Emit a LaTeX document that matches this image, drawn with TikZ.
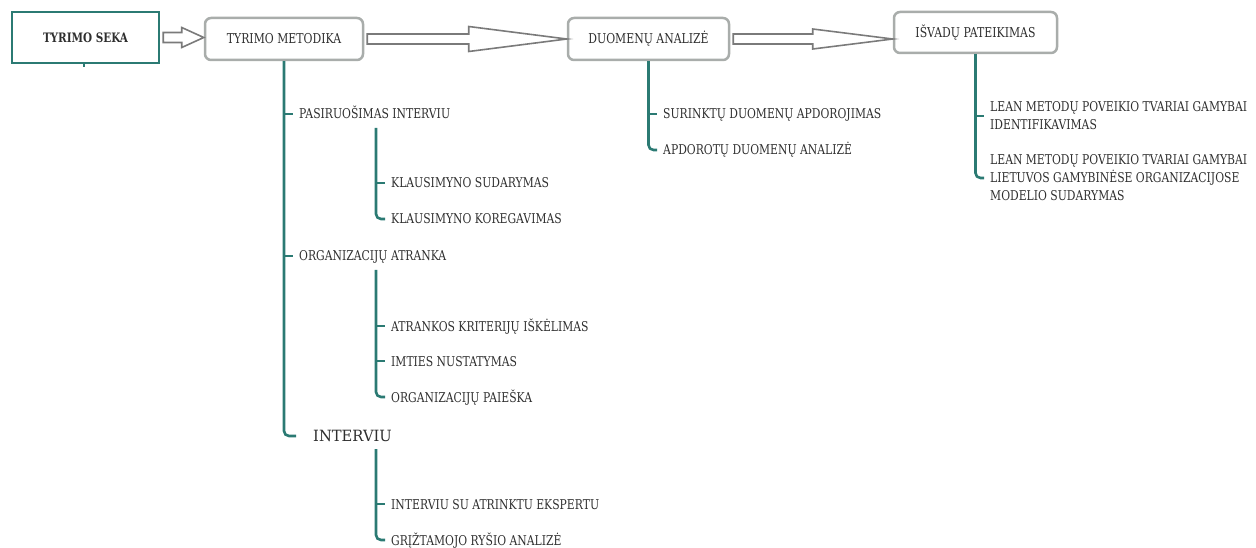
\documentclass[tikz,border=0pt]{standalone}
\usepackage{fontspec}
\setmainfont{DejaVu Serif}[FakeStretch=0.8]
\newfontfamily\widefont{DejaVu Serif}[FakeStretch=0.95]
\usetikzlibrary{calc}
\definecolor{teal1}{HTML}{2B7A73}
\definecolor{boxgray}{HTML}{A9ADAB}
\definecolor{ink}{HTML}{2E2E2E}
\definecolor{arrowgray}{HTML}{7A7A7A}

% hollow block arrow between two stage boxes
% #1 source node, #2 target node, #3 head length, #4 head half-height
\newcommand\hollowarrow[4]{%
  \draw[harrow] let \p1=(#1.east), \p2=(#2.west) in
    (\x1+3pt,\y1+5pt) -- (\x2-#3,\y1+5pt) -- (\x2-#3,\y1+#4) -- (\x2,\y1)
    -- (\x2-#3,\y1-#4) -- (\x2-#3,\y1-5pt) -- (\x1+3pt,\y1-5pt) -- cycle;}

\begin{document}
\begin{tikzpicture}[x=1pt,y=-1pt,
  stage/.style={draw=boxgray, line width=2.5pt, rounded corners=6pt, fill=white,
    text=ink, font=\fontsize{13.6}{15}\selectfont, inner sep=0pt, minimum height=42pt},
  start/.style={draw=teal1, line width=2.5pt, fill=white, text=ink,
    font=\bfseries\fontsize{13}{15}\selectfont, minimum width=147pt, minimum height=51pt},
  item/.style={anchor=west, inner xsep=6pt, inner ysep=0pt, text=ink,
    font=\fontsize{13.5}{15}\selectfont, text height=10pt, text depth=0pt},
  bigitem/.style={anchor=west, inner sep=0pt, text=ink,
    font=\widefont\fontsize{15.5}{17}\selectfont, text height=11.5pt, text depth=0pt},
  multiitem/.style={anchor=west, inner xsep=6pt, inner ysep=0pt, text=ink, align=left,
    font=\fontsize{13.5}{18}\selectfont},
  branch/.style={draw=teal1, line width=2.6pt},
  lastbranch/.style={branch, rounded corners=5pt},
  harrow/.style={draw=arrowgray, line width=1.6pt, fill=white, line join=miter}]

\useasboundingbox (0,0) rectangle (1256,548);

% main stages
\node[start] (seka) at (85.5,37.5) {TYRIMO SEKA};
\node[stage, minimum width=158pt] (metodika) at (284,39) {TYRIMO METODIKA};
\node[stage, minimum width=161pt] (duomenys) at (648.5,39) {DUOMENŲ ANALIZĖ};
\node[stage, minimum width=163pt, minimum height=41pt] (isvados) at (975.5,32.5) {IŠVADŲ PATEIKIMAS};

\coordinate (sekastub) at (84,67);
\draw[draw=teal1, line width=2pt] (seka.south -| sekastub) -- (sekastub);

% arrows between stages
\hollowarrow{seka}{metodika}{22pt}{10pt}
\hollowarrow{metodika}{duomenys}{98pt}{12.5pt}
\hollowarrow{duomenys}{isvados}{80pt}{10pt}

% --- research methodology branch ---
\node[item] (pasiruosimas) at (293,114) {PASIRUOŠIMAS INTERVIU};
\node[item] (sudarymas) at (385,183) {KLAUSIMYNO SUDARYMAS};
\node[item] (koregavimas) at (385,219) {KLAUSIMYNO KOREGAVIMAS};
\node[item] (atranka) at (293,256) {ORGANIZACIJŲ ATRANKA};
\node[item] (kriterijai) at (385,326) {ATRANKOS KRITERIJŲ IŠKĖLIMAS};
\node[item] (imtis) at (385,361) {IMTIES NUSTATYMAS};
\node[item] (paieska) at (385,397) {ORGANIZACIJŲ PAIEŠKA};
\node[bigitem] (interviu) at (313,436) {INTERVIU};
\node[item] (ekspertas) at (385,504) {INTERVIU SU ATRINKTU EKSPERTU};
\node[item] (griztamasis) at (385,540) {GRĮŽTAMOJO RYŠIO ANALIZĖ};

\coordinate (interviuend) at (296,436);
\draw[lastbranch] (metodika.south) |- (interviuend);
\draw[branch] (metodika.south |- pasiruosimas.west) -- (pasiruosimas.west);
\draw[branch] (metodika.south |- atranka.west) -- (atranka.west);

\coordinate (pasub) at (376,128);
\draw[lastbranch] (pasub) |- (koregavimas.west);
\draw[branch] (pasub |- sudarymas.west) -- (sudarymas.west);

\coordinate (atsub) at (376,270);
\draw[lastbranch] (atsub) |- (paieska.west);
\draw[branch] (atsub |- kriterijai.west) -- (kriterijai.west);
\draw[branch] (atsub |- imtis.west) -- (imtis.west);

\coordinate (insub) at (376,449);
\draw[lastbranch] (insub) |- (griztamasis.west);
\draw[branch] (insub |- ekspertas.west) -- (ekspertas.west);

% --- data analysis branch ---
\node[item] (surinktu) at (657,114) {SURINKTŲ DUOMENŲ APDOROJIMAS};
\node[item] (apdorotu) at (657,150) {APDOROTŲ DUOMENŲ ANALIZĖ};
\draw[lastbranch] (duomenys.south) |- (apdorotu.west);
\draw[branch] (duomenys.south |- surinktu.west) -- (surinktu.west);

% --- conclusions branch ---
\node[multiitem] (poveikis) at (984,116) {LEAN METODŲ POVEIKIO TVARIAI GAMYBAI\\IDENTIFIKAVIMAS};
\node[multiitem] (modelis) at (984,178) {LEAN METODŲ POVEIKIO TVARIAI GAMYBAI\\LIETUVOS GAMYBINĖSE ORGANIZACIJOSE\\MODELIO SUDARYMAS};
\draw[lastbranch] (isvados.south) |- (modelis.west);
\draw[branch] (isvados.south |- poveikis.west) -- (poveikis.west);

\end{tikzpicture}
\end{document}
